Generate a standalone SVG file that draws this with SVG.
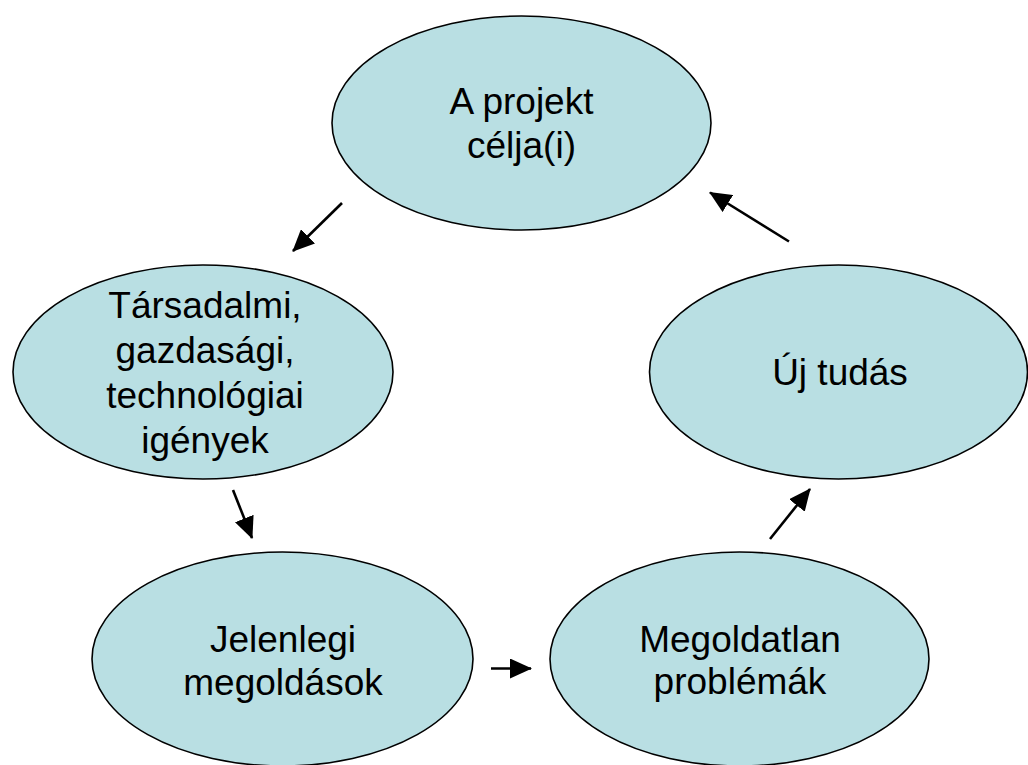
<svg xmlns="http://www.w3.org/2000/svg" width="1028" height="765" viewBox="0 0 1028 765">
<style>
.node ellipse{fill:#B9DFE3;stroke:#000;stroke-width:1.6}
.node text{font-family:"Liberation Sans",Arial,sans-serif;font-size:37px;fill:#000;text-anchor:middle}
.conn line{stroke:#000;stroke-width:2.6;marker-end:url(#ah)}
</style>
<defs>
<marker id="ah" markerUnits="userSpaceOnUse" markerWidth="22" markerHeight="20" viewBox="0 0 22 20" refX="21" refY="10" orient="auto">
<path d="M0,0 L22,10 L0,20 Z" fill="#000"/>
</marker>
</defs>
<rect width="1028" height="765" fill="#fff"/>
<g id="n-cel" class="node">
<ellipse cx="521.5" cy="123" rx="189.5" ry="107"/>
<text x="521.5" y="114">A projekt</text>
<text x="521.5" y="158">célja(i)</text>
</g>
<g id="n-igenyek" class="node">
<ellipse cx="203" cy="372" rx="190" ry="107"/>
<text x="205" y="318">Társadalmi,</text>
<text x="205" y="363">gazdasági,</text>
<text x="205" y="408">technológiai</text>
<text x="205" y="453">igények</text>
</g>
<g id="n-jelenlegi" class="node">
<ellipse cx="282.5" cy="659" rx="190.5" ry="107"/>
<text x="283" y="652">Jelenlegi</text>
<text x="283" y="695">megoldások</text>
</g>
<g id="n-megoldatlan" class="node">
<ellipse cx="739.5" cy="659" rx="189.5" ry="107"/>
<text x="740" y="652">Megoldatlan</text>
<text x="740" y="694">problémák</text>
</g>
<g id="n-ujtudas" class="node">
<ellipse cx="838.5" cy="372" rx="189" ry="107"/>
<text x="840" y="385">Új tudás</text>
</g>
<g id="connectors" class="conn">
<line x1="342" y1="203" x2="293" y2="251"/>
<line x1="233" y1="490" x2="252" y2="538"/>
<line x1="491" y1="668.5" x2="531" y2="668.5"/>
<line x1="770" y1="539" x2="810" y2="489"/>
<line x1="789" y1="241.5" x2="710" y2="192.5"/>
</g>
</svg>
